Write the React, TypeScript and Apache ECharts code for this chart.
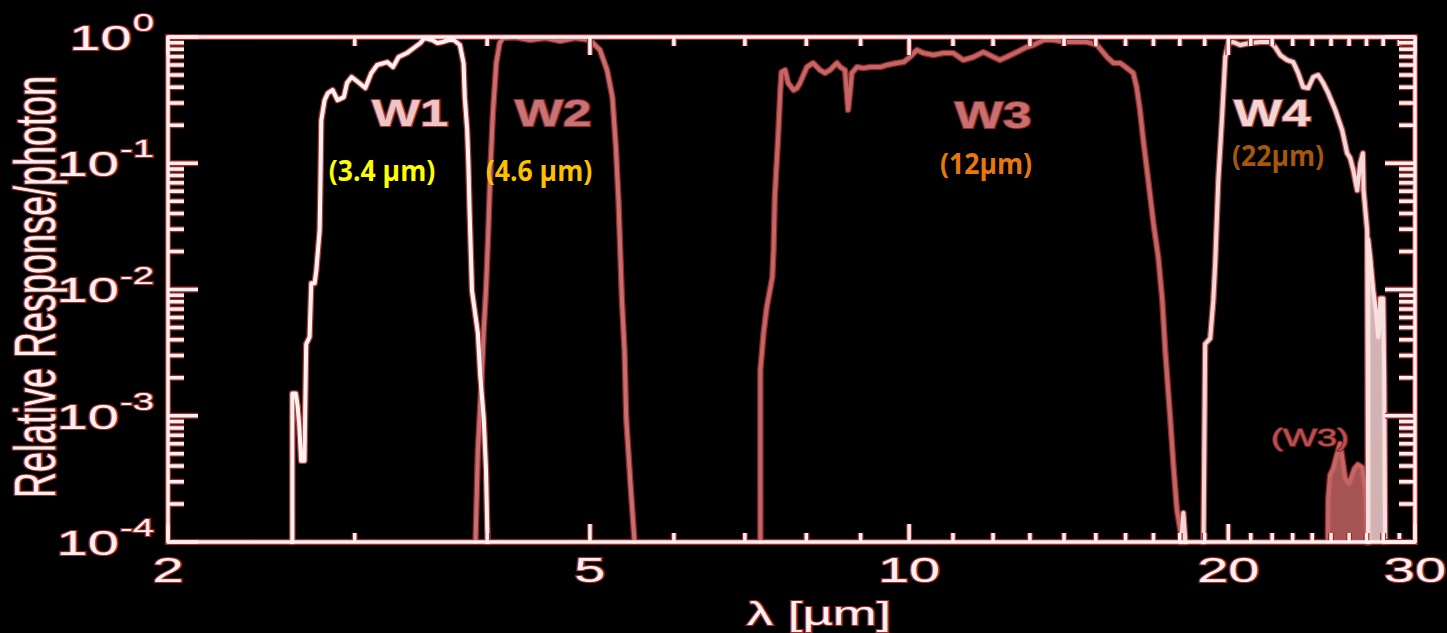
import React, { useEffect, useRef } from 'react';
import * as echarts from 'echarts';

// ---- Data (wavelength in µm, relative response/photon) ----
const w1Wavelength = [2.62, 2.62, 2.64, 2.65, 2.66, 2.67, 2.69, 2.695, 2.70, 2.72, 2.73, 2.75, 2.76, 2.78, 2.785, 2.79, 2.81, 2.83, 2.86, 2.89, 2.93, 2.95, 2.98, 3.03, 3.07, 3.11, 3.15, 3.22, 3.26, 3.30, 3.36, 3.41, 3.46, 3.49, 3.55, 3.59, 3.63, 3.68, 3.72, 3.77, 3.80, 3.81, 3.83, 3.84, 3.85, 3.87, 3.92, 3.94, 3.97, 3.99, 4.01];
const w1Response = [0.00005, 0.0015, 0.0015, 0.0012, 0.00083, 0.00044, 0.00044, 0.0013, 0.0037, 0.0042, 0.0112, 0.0112, 0.0142, 0.0295, 0.0733, 0.219, 0.316, 0.359, 0.380, 0.316, 0.334, 0.432, 0.482, 0.432, 0.394, 0.518, 0.600, 0.633, 0.578, 0.694, 0.746, 0.818, 0.896, 0.982, 0.947, 0.896, 0.913, 0.947, 0.947, 0.864, 0.622, 0.334, 0.183, 0.100, 0.0424, 0.0098, 0.0045, 0.0021, 0.00096, 0.00037, 0.00005];

const w2Wavelength = [3.90, 3.90, 3.92, 3.95, 3.97, 3.99, 4.01, 4.03, 4.05, 4.08, 4.11, 4.14, 4.25, 4.39, 4.54, 4.69, 4.84, 5.00, 5.11, 5.19, 5.25, 5.29, 5.32, 5.34, 5.36, 5.39, 5.41, 5.46, 5.54];
const w2Response = [0.00005, 0.0001, 0.00053, 0.0018, 0.0047, 0.01, 0.0295, 0.1, 0.249, 0.622, 0.896, 0.982, 0.995, 0.947, 0.982, 0.929, 0.982, 0.947, 0.789, 0.547, 0.334, 0.134, 0.0508, 0.0205, 0.0082, 0.0033, 0.00096, 0.00029, 0.00005];

const w3Wavelength = [7.24, 7.24, 7.29, 7.34, 7.43, 7.45, 7.47, 7.53, 7.56, 7.58, 7.64, 7.69, 7.78, 7.84, 7.89, 8.01, 8.12, 8.24, 8.33, 8.42, 8.55, 8.61, 8.70, 8.73, 8.76, 8.80, 8.83, 8.93, 9.06, 9.19, 9.39, 9.53, 9.74, 9.88, 10.02, 10.17, 10.32, 10.54, 10.77, 11.01, 11.25, 11.50, 11.75, 12.01, 12.18, 12.36, 12.64, 12.91, 13.10, 13.39, 13.68, 14.09, 14.39, 14.71, 15.04, 15.37, 15.59, 15.82, 16.05, 16.27, 16.39, 16.51, 16.63, 16.81, 17.00, 17.18, 17.33, 17.44, 17.63, 17.76, 17.89, 18.09, 18.28];
const w3Response = [0.00005, 0.0023, 0.0045, 0.0072, 0.0125, 0.0205, 0.0536, 0.183, 0.380, 0.528, 0.547, 0.432, 0.380, 0.394, 0.432, 0.578, 0.622, 0.547, 0.518, 0.547, 0.622, 0.578, 0.547, 0.380, 0.264, 0.380, 0.518, 0.578, 0.567, 0.578, 0.578, 0.600, 0.622, 0.633, 0.694, 0.789, 0.746, 0.720, 0.746, 0.746, 0.657, 0.694, 0.760, 0.694, 0.657, 0.694, 0.760, 0.833, 0.864, 0.947, 0.947, 0.913, 0.913, 0.913, 0.864, 0.694, 0.622, 0.622, 0.567, 0.518, 0.401, 0.264, 0.152, 0.0733, 0.0334, 0.0180, 0.0082, 0.0033, 0.00096, 0.00039, 0.00018, 0.000103, 0.00005];

// W3 red leak near 25-27 µm, labelled "(W3)"
const w3LeakWavelength = [24.80, 24.85, 24.95, 25.12, 25.30, 25.50, 25.64, 25.78, 26.00, 26.30, 26.50, 26.75, 26.93, 27.00, 27.04];
const w3LeakResponse = [0.00005, 0.00022, 0.00034, 0.00038, 0.00048, 0.0006, 0.00044, 0.00032, 0.00029, 0.00038, 0.00041, 0.00039, 0.00026, 0.00015, 0.00005];

const w4Wavelength = [17.94, 18.14, 18.33, 18.94, 19.02, 19.23, 19.36, 19.44, 19.57, 19.74, 19.87, 20.00, 20.21, 20.52, 20.97, 21.44, 21.90, 22.14, 22.39, 22.73, 23.03, 23.28, 23.53, 23.79, 24.05, 24.31, 24.58, 24.85, 25.23, 25.61, 25.89, 26.06, 26.24, 26.46, 26.64, 26.79, 26.83, 27.04, 27.10];
const w4Response = [0.00005, 0.00017, 0.00005, 0.00005, 0.0037, 0.0041, 0.0082, 0.0161, 0.0733, 0.249, 0.694, 0.896, 0.913, 0.864, 0.896, 0.913, 0.913, 0.833, 0.720, 0.657, 0.633, 0.518, 0.401, 0.394, 0.482, 0.500, 0.432, 0.359, 0.264, 0.183, 0.120, 0.110, 0.088, 0.0611, 0.100, 0.120, 0.0611, 0.0295, 0.00005];

// W4 long-wavelength tail (drawn filled, as in the reference)
const w4TailWavelength = [27.10, 27.10, 27.22, 27.40, 27.58, 27.70, 27.78, 27.82, 28.00, 28.06, 28.13];
const w4TailResponse = [0.00005, 0.025, 0.018, 0.0098, 0.0065, 0.0042, 0.0050, 0.0085, 0.0085, 0.002, 0.00005];

// ---- Axis ticks and labels ----
const xMajorTicks = [2, 5, 10, 20, 30];
const xTickLabels = ['2', '5', '10', '20', '30'];
const xMinorTicks = [3, 4, 6, 7, 8, 9, 11, 12, 13, 14, 15, 16, 17, 18, 19, 21, 22, 23, 24, 25, 26, 27, 28, 29];
const yMajorTicks = [0.0001, 0.001, 0.01, 0.1, 1];
const yTickExponents = ['-4', '-3', '-2', '-1', '0'];
const yMinorTicks = [
  0.0002, 0.0003, 0.0004, 0.0005, 0.0006, 0.0007, 0.0008, 0.0009,
  0.002, 0.003, 0.004, 0.005, 0.006, 0.007, 0.008, 0.009,
  0.02, 0.03, 0.04, 0.05, 0.06, 0.07, 0.08, 0.09,
  0.2, 0.3, 0.4, 0.5, 0.6, 0.7, 0.8, 0.9,
];

// ---- Styles ----
const FRAME = '#fdf0f0';
const HALO = '#9c2a2a';
const FONT = '"Liberation Sans", Arial, Helvetica, sans-serif';
const STRETCH = 1.6;

function zip(xs: number[], ys: number[]) {
  return xs.map((x, i) => [x, ys[i]]);
}

function curve(name: string, xs: number[], ys: number[], core: string, halo: string, fill?: string) {
  const data = zip(xs, ys);
  const top: any = {
    type: 'line', name, data, showSymbol: false, symbol: 'none', silent: true,
    clip: true, z: 3, lineStyle: { color: core, width: 4, join: 'round', cap: 'round' },
  };
  if (fill) top.areaStyle = { color: fill, opacity: 0.9, origin: 'start' };
  return [
    {
      type: 'line', name: name + ' halo', data, showSymbol: false, symbol: 'none', silent: true,
      clip: true, z: 2, lineStyle: { color: halo, width: 6.5, join: 'round', cap: 'round' },
    },
    top,
  ];
}

function tickLine(x1: number, y1: number, x2: number, y2: number) {
  return [
    { type: 'line', shape: { x1, y1, x2, y2 }, style: { stroke: HALO, lineWidth: 6 } },
    { type: 'line', shape: { x1, y1, x2, y2 }, style: { stroke: FRAME, lineWidth: 3.5 } },
  ];
}

function txtStyle(text: string, font: string, fill: string, stroke: string, lw: number) {
  return {
    text, font, fill, stroke, lineWidth: lw,
    align: 'center', verticalAlign: 'middle', textAlign: 'center', textVerticalAlign: 'middle',
  };
}

function label(text: string, x: number, y: number, font: string, fill: string, stroke: string, lw: number, scaleX: number) {
  return { type: 'text', x, y, scaleX, z: 20, silent: true, style: txtStyle(text, font, fill, stroke, lw) };
}

function expWidth(s: string) {
  let w = 0;
  for (const c of s) w += c === '-' ? 0.333 : 0.556;
  return w * 24 * STRETCH;
}

const baseAxis = {
  type: 'log',
  logBase: 10,
  z: 10,
  axisLine: { show: true, onZero: false, lineStyle: { color: FRAME, width: 3.5 } },
  axisTick: { show: false },
  axisLabel: { show: false },
  splitLine: { show: false },
  minorTick: { show: false },
  minorSplitLine: { show: false },
};

export default function App() {
  const ref = useRef<HTMLDivElement>(null);

  useEffect(() => {
    document.body.style.margin = '0';
    document.body.style.background = '#000';
    if (!ref.current) return;
    const chart = echarts.init(ref.current, undefined, { renderer: 'svg' });

    const xTickData = [
      ...xMajorTicks.map((v) => [v, 1, 1]),
      ...xMinorTicks.map((v) => [v, 1, 0]),
    ];
    const yTickData = [
      ...yMajorTicks.map((v) => [2, v, 1]),
      ...yMinorTicks.map((v) => [2, v, 0]),
    ];

    const option: any = {
      animation: false,
      backgroundColor: '#000',
      grid: {
        left: 168, top: 37, right: 32, bottom: 91,
        show: true, borderColor: HALO, borderWidth: 6, backgroundColor: 'transparent',
      },
      xAxis: [
        { ...baseAxis, min: 2, max: 30, position: 'bottom' },
        { ...baseAxis, min: 2, max: 30, position: 'top' },
      ],
      yAxis: [
        { ...baseAxis, min: 0.0001, max: 1, position: 'left' },
        { ...baseAxis, min: 0.0001, max: 1, position: 'right' },
      ],
      series: [
        ...curve('W2', w2Wavelength, w2Response, '#c86e6e', '#8a2a2a'),
        ...curve('W3', w3Wavelength, w3Response, '#c46666', '#8a2a2a'),
        ...curve('W3 leak', w3LeakWavelength, w3LeakResponse, '#c46666', '#8a2a2a', '#b85c5c'),
        ...curve('W4', w4Wavelength, w4Response, '#f3d8d8', '#a84444'),
        ...curve('W4 tail', w4TailWavelength, w4TailResponse, '#f6e0e0', '#a84444', '#e8c6c6'),
        ...curve('W1', w1Wavelength, w1Response, '#fdf2f2', '#a83838'),
        {
          type: 'custom', name: 'x ticks', coordinateSystem: 'cartesian2d', silent: true, clip: false, z: 4,
          data: xTickData,
          renderItem: (params: any, api: any) => {
            const cs = params.coordSys;
            const x = api.coord([api.value(0), api.value(1)])[0];
            const len = api.value(2) ? 18 : 9;
            const b = cs.y + cs.height;
            const t = cs.y;
            return { type: 'group', children: [...tickLine(x, b, x, b - len), ...tickLine(x, t, x, t + len)] };
          },
        },
        {
          type: 'custom', name: 'y ticks', coordinateSystem: 'cartesian2d', silent: true, clip: false, z: 4,
          data: yTickData,
          renderItem: (params: any, api: any) => {
            const cs = params.coordSys;
            const y = api.coord([api.value(0), api.value(1)])[1];
            const len = api.value(2) ? 30 : 16;
            const l = cs.x;
            const r = cs.x + cs.width;
            return { type: 'group', children: [...tickLine(l, y, l + len, y), ...tickLine(r, y, r - len, y)] };
          },
        },
        {
          type: 'custom', name: 'x labels', coordinateSystem: 'cartesian2d', silent: true, clip: false, z: 6,
          data: xMajorTicks.map((v) => [v, 1]),
          renderItem: (params: any, api: any) => {
            const cs = params.coordSys;
            const x = api.coord([api.value(0), api.value(1)])[0];
            const b = cs.y + cs.height;
            return {
              type: 'text', x, y: b + 28, scaleX: STRETCH,
              style: txtStyle(xTickLabels[params.dataIndex], `35px ${FONT}`, FRAME, HALO, 2),
            };
          },
        },
        {
          type: 'custom', name: 'y labels', coordinateSystem: 'cartesian2d', silent: true, clip: false, z: 6,
          data: yMajorTicks.map((v) => [2, v]),
          renderItem: (params: any, api: any) => {
            const cs = params.coordSys;
            const y = api.coord([api.value(0), api.value(1)])[1];
            const ex = yTickExponents[params.dataIndex];
            const right = cs.x - 14;
            const s1: any = txtStyle('10', `35px ${FONT}`, FRAME, HALO, 2);
            s1.align = 'right'; s1.textAlign = 'right';
            const s2: any = txtStyle(ex, `24px ${FONT}`, FRAME, HALO, 2);
            s2.align = 'right'; s2.textAlign = 'right';
            return {
              type: 'group',
              children: [
                { type: 'text', x: right - expWidth(ex) - 1, y: y + 1, scaleX: STRETCH, style: s1 },
                { type: 'text', x: right, y: y - 14, scaleX: STRETCH, style: s2 },
              ],
            };
          },
        },
      ],
      graphic: [
        {
          type: 'text', x: 35, y: 287, rotation: Math.PI / 2, scaleY: STRETCH, z: 20, silent: true,
          style: txtStyle('Relative Response/photon', `36px ${FONT}`, FRAME, HALO, 2),
        },
        label('λ [µm]', 819, 613, `34px ${FONT}`, FRAME, HALO, 2, 1.55),
        label('W1', 410, 113, `bold 36px ${FONT}`, '#ecc6c6', '#a03232', 2, 1.42),
        label('W2', 553, 113, `bold 36px ${FONT}`, '#c87474', '#8a2a2a', 2, 1.42),
        label('W3', 993, 115, `bold 36px ${FONT}`, '#c87070', '#8a2a2a', 2, 1.42),
        label('W4', 1272, 113, `bold 36px ${FONT}`, '#f2d6d6', '#a84444', 2, 1.42),
        label('(W3)', 1310, 437, `24px ${FONT}`, '#b85252', '#7a2020', 1.5, 1.5),
        label('(3.4 µm)', 382, 170, `bold 28px "Open Sans", sans-serif`, '#ffff00', 'none', 0, 0.95),
        label('(4.6 µm)', 539, 170, `bold 28px "Open Sans", sans-serif`, '#ffc000', 'none', 0, 0.95),
        label('(12µm)', 986, 163, `bold 28px "Open Sans", sans-serif`, '#e8780e', 'none', 0, 0.95),
        label('(22µm)', 1278, 155, `bold 28px "Open Sans", sans-serif`, '#a5560f', 'none', 0, 0.95),
      ],
    };

    chart.setOption(option);
    return () => {
      chart.dispose();
    };
  }, []);

  return (
    <div
      ref={ref}
      style={{ position: 'fixed', left: 0, top: 0, width: 1447, height: 633, background: '#000' }}
    />
  );
}
